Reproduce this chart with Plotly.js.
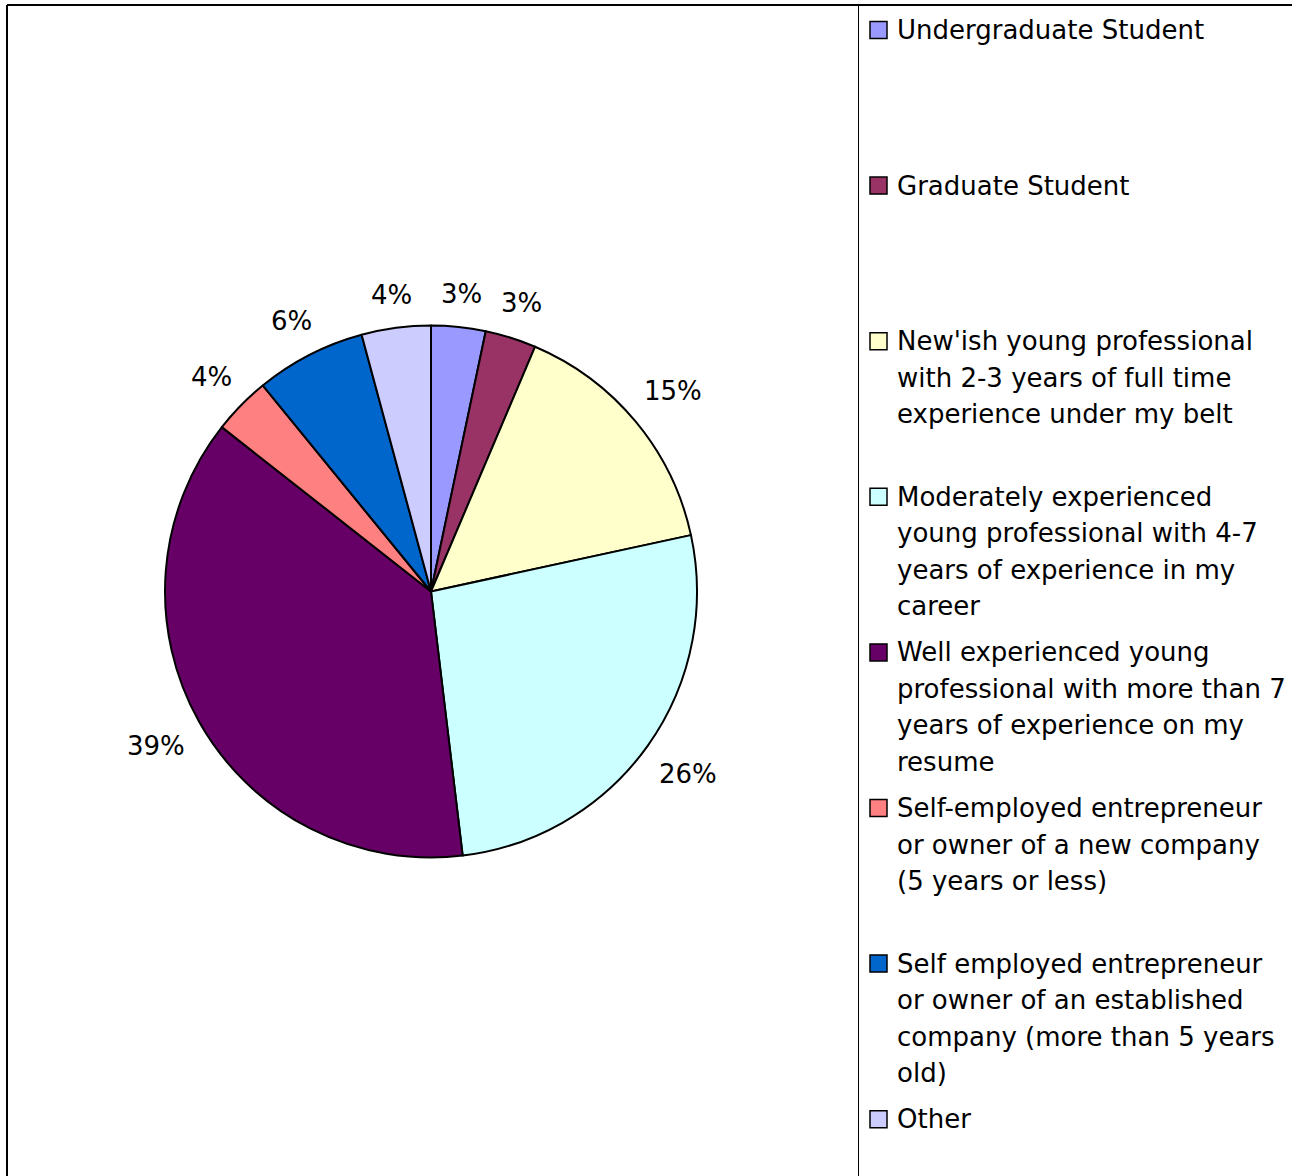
<!DOCTYPE html>
<html>
<head>
<meta charset="utf-8">
<script src="https://cdn.plot.ly/plotly-3.0.1.min.js"></script>
<style>
html, body { margin: 0; padding: 0; background: #ffffff; }
#chart { width: 1292px; height: 1176px; }
</style>
</head>
<body>
<div id="chart"></div>
<script>
// ---- Data ----
const categories = [
  "Undergraduate Student",
  "Graduate Student",
  "New'ish young professional<br>with 2-3 years of full time<br>experience under my belt",
  "Moderately experienced<br>young professional with 4-7<br>years of experience in my<br>career",
  "Well experienced young<br>professional with more than 7<br>years of experience on my<br>resume",
  "Self-employed entrepreneur<br>or owner of a new company<br>(5 years or less)",
  "Self employed entrepreneur<br>or owner of an established<br>company (more than 5 years<br>old)",
  "Other"
];
const shares = [3.3, 3.1, 15.2, 26.5, 37.5, 3.5, 6.7, 4.2];
const pctLabels = ["3%", "3%", "15%", "26%", "39%", "4%", "6%", "4%"];
const colors = ["#9999FF", "#993366", "#FFFFCC", "#CCFFFF", "#660066", "#FF8080", "#0066CC", "#CCCCFF"];

// ---- Page geometry ----
const W = 1292, H = 1176;
const px = x => x / W;
const py = y => 1 - y / H;
const CX = 431, CY = 591.5, R = 266;

const font = "DejaVu Sans, Verdana, sans-serif";
const FS = 26;

const trace = {
  type: "pie",
  labels: categories,
  values: shares,
  textinfo: "none",
  sort: false,
  direction: "clockwise",
  rotation: 0,
  marker: { colors: colors, line: { color: "#000000", width: 2 } },
  domain: { x: [px(CX - R), px(CX + R)], y: [py(CY + R), py(CY - R)] },
  hoverinfo: "none",
  showlegend: false
};

const shapes = [
  // outer frame (top and left edges visible)
  { type: "line", xref: "paper", yref: "paper", x0: px(7), x1: 1, y0: py(5), y1: py(5), line: { color: "#000", width: 2 } },
  { type: "line", xref: "paper", yref: "paper", x0: px(7), x1: px(7), y0: py(5), y1: 0, line: { color: "#000", width: 2 } },
  // divider between plot and legend
  { type: "line", xref: "paper", yref: "paper", x0: px(858.5), x1: px(858.5), y0: py(5), y1: 0, line: { color: "#000", width: 1 } }
];
const annotations = [];

// ---- Percentage labels placed outside each slice, from the slice mid-angle ----
const total = shares.reduce((a, b) => a + b, 0);
let cum = 0;
shares.forEach((v, i) => {
  const mid = (cum + v / 2) / total * 2 * Math.PI;
  cum += v;
  const s = Math.sin(mid), c = Math.cos(mid);
  const halfW = pctLabels[i].length * 0.37 * FS;   // approx half text width
  const halfH = 0.5 * FS;
  const dist = R + 18 + halfW * Math.abs(s) + halfH * Math.abs(c);
  annotations.push({
    xref: "paper", yref: "paper",
    x: px(CX + dist * s), y: py(CY - dist * c),
    xanchor: "center", yanchor: "middle",
    text: pctLabels[i], showarrow: false,
    font: { family: font, size: FS, color: "#000" }
  });
});

// ---- Hand-drawn legend (evenly spaced entries like the original) ----
const legendTop = 30, legendStep = 155.6, lineStep = 36.5;
categories.forEach((cat, i) => {
  const yc = legendTop + i * legendStep;
  shapes.push({
    type: "rect", xref: "paper", yref: "paper",
    x0: px(870), x1: px(887), y0: py(yc + 8.5), y1: py(yc - 8.5),
    fillcolor: colors[i], line: { color: "#000", width: 1.5 }
  });
  cat.split("<br>").forEach((ln, j) => {
    annotations.push({
      xref: "paper", yref: "paper",
      x: px(895), y: py(yc + j * lineStep),
      xanchor: "left", yanchor: "middle",
      text: ln, showarrow: false,
      font: { family: font, size: FS, color: "#000" }
    });
  });
});

const layout = {
  width: W, height: H,
  margin: { l: 0, r: 0, t: 0, b: 0 },
  paper_bgcolor: "#ffffff",
  plot_bgcolor: "#ffffff",
  showlegend: false,
  shapes: shapes,
  annotations: annotations
};

Plotly.newPlot("chart", [trace], layout, { displayModeBar: false, staticPlot: true });
</script>
</body>
</html>
